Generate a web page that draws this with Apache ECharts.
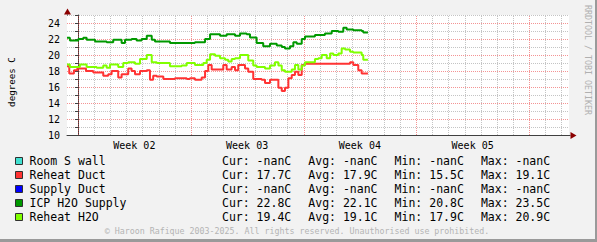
<!DOCTYPE html>
<html>
<head>
<meta charset="utf-8">
<script src="https://cdn.jsdelivr.net/npm/echarts@6/dist/echarts.min.js"></script>
<style>
html, body { margin: 0; padding: 0; background: #f2f2f2; }
#frame { position: absolute; left: 0; top: 0; width: 595px; height: 239px; background: #f2f2f2;
  border-right: 2px solid #9a9a9a; border-bottom: 3px solid #9a9a9a; }
#chart { width: 595px; height: 239px; }
</style>
</head>
<body>
<div id="frame"><div id="chart"></div></div>
<script>
// ---- data (x = days since start of Week 02) ----
const weekLabels = ['Week 02', 'Week 03', 'Week 04', 'Week 05'];
const weekStarts = [0, 7, 14, 21];
const gridDays = [0,1,2,3,4,5,6,7,8,9,10,11,12,13,14,15,16,17,18,19,20,21,22,23,24,25,26,27,28,29,30];
const xMin = -0.68, xMax = 30.48;
const yTicks = [10, 12, 14, 16, 18, 20, 22, 24];

const seriesNames = ['Room S wall', 'Reheat Duct', 'Supply Duct', 'ICP H2O Supply', 'Reheat H2O'];
const seriesColors = ['#40e0d0', '#ff3333', '#0000ff', '#009900', '#80ff00'];
const curStats = ['-nan', '17.7', '-nan', '22.8', '19.4'];
const avgStats = ['-nan', '17.9', '-nan', '22.1', '19.1'];
const minStats = ['-nan', '15.5', '-nan', '20.8', '17.9'];
const maxStats = ['-nan', '19.1', '-nan', '23.5', '20.9'];

const roomDays = [];
const roomVals = [];
const supplyDays = [];
const supplyVals = [];

const reheatDuctDays = [-0.68, -0.54, -0.25, -0.04, 0.50, 0.95, 1.57, 1.88, 2.09, 2.50, 2.71, 3.12, 3.33, 3.54, 3.85, 4.27, 4.47, 4.67, 4.89, 5.30, 6.02, 6.75, 6.95, 7.26, 7.68, 7.89, 8.09, 8.30, 9.02, 9.23, 9.54, 9.75, 9.95, 10.37, 10.57, 10.88, 11.40, 11.61, 11.92, 12.44, 12.65, 12.85, 13.06, 13.27, 13.47, 13.68, 13.89, 14.09, 16.89, 17.09, 17.40, 17.61, 18.00];
const reheatDuctVals = [18.6, 17.7, 18.1, 18.3, 18.0, 17.8, 17.4, 17.6, 18.0, 17.2, 17.6, 18.3, 18.0, 17.6, 18.0, 18.1, 16.9, 17.4, 17.3, 17.0, 17.1, 17.0, 17.1, 16.9, 17.2, 18.0, 18.75, 18.2, 18.75, 18.2, 18.5, 18.1, 18.75, 18.3, 17.9, 17.0, 16.9, 16.5, 16.9, 15.9, 15.5, 15.9, 17.1, 17.5, 17.9, 17.5, 18.75, 18.9, 19.1, 18.75, 18.1, 17.7, 17.7];

const icpDays = [-0.68, -0.50, 0.02, 0.33, 0.54, 1.06, 1.78, 2.19, 2.71, 2.92, 3.33, 3.64, 3.95, 4.27, 4.58, 4.78, 5.71, 6.95, 7.26, 7.89, 8.20, 8.82, 9.23, 9.75, 10.06, 10.47, 10.68, 11.09, 11.50, 11.92, 12.34, 12.65, 12.85, 13.16, 13.37, 13.58, 13.89, 14.09, 14.71, 15.33, 15.75, 16.16, 16.47, 16.68, 17.09, 17.61, 17.71, 18.00];
const icpVals = [22.15, 21.8, 22.0, 22.15, 21.9, 21.7, 21.6, 21.9, 21.5, 21.9, 22.0, 21.8, 22.0, 22.4, 21.9, 21.7, 21.5, 21.5, 21.6, 22.0, 22.6, 22.4, 22.6, 22.4, 22.7, 22.6, 22.2, 21.5, 21.1, 21.4, 21.2, 21.0, 20.8, 21.1, 21.6, 21.4, 22.0, 22.3, 22.5, 22.7, 23.0, 22.9, 23.4, 23.2, 23.1, 23.0, 22.8, 22.8];

const reheatH2ODays = [-0.68, -0.50, 0.12, 0.54, 1.16, 1.57, 1.78, 1.99, 2.50, 2.81, 3.12, 3.54, 3.85, 4.27, 4.58, 4.89, 5.71, 6.44, 6.75, 7.26, 7.78, 7.99, 8.20, 8.51, 8.82, 9.13, 9.33, 9.54, 9.75, 10.06, 10.57, 10.88, 11.09, 11.61, 11.92, 12.23, 12.44, 12.65, 12.85, 13.27, 13.47, 13.68, 13.89, 14.09, 14.71, 14.92, 15.13, 15.44, 15.65, 15.85, 16.16, 16.37, 16.58, 16.89, 17.09, 17.61, 17.71, 18.00];
const reheatH2OVals = [18.8, 18.5, 18.8, 18.5, 18.4, 18.7, 18.4, 18.8, 18.5, 19.0, 19.1, 18.9, 19.5, 20.0, 19.1, 19.0, 18.6, 18.7, 19.0, 18.75, 19.0, 19.4, 20.1, 19.9, 19.6, 19.4, 19.2, 19.5, 19.6, 20.0, 19.3, 18.7, 18.5, 18.3, 18.7, 19.1, 18.7, 18.1, 17.9, 18.2, 18.75, 18.2, 18.7, 19.1, 19.5, 19.6, 20.0, 19.6, 20.2, 20.0, 20.2, 20.8, 20.7, 20.4, 20.3, 20.0, 19.4, 19.4];

const seriesDays = [roomDays, reheatDuctDays, supplyDays, icpDays, reheatH2ODays];
const seriesVals = [roomVals, reheatDuctVals, supplyVals, icpVals, reheatH2OVals];

// ---- build ----
const MONO = '"DejaVu Sans Mono", monospace';
const MAJOR = 'rgba(235,60,60,0.55)';
const MINOR = '#c4c4c4';
const ARROW = '#8b0000';

function pairs(days, vals) {
  const out = [];
  const n = Math.min(days.length, vals.length);
  for (let i = 0; i < n; i++) out.push([days[i], vals[i]]);
  return out;
}

const dataSeries = seriesNames.map((name, i) => ({
  name: name,
  type: 'line',
  step: 'end',
  showSymbol: false,
  symbol: 'none',
  z: 5,
  color: seriesColors[i],
  lineStyle: { color: seriesColors[i], width: 2 },
  itemStyle: { color: seriesColors[i] },
  data: pairs(seriesDays[i], seriesVals[i]),
  animation: false
}));

// vertical day grid lines, placed through the x scale
const gridSeries = {
  type: 'custom',
  z: 3,
  animation: false,
  clip: false,
  data: gridDays.map(d => [d, 10, d % 7 === 0 ? 1 : 0]),
  renderItem: (params, api) => {
    const d = api.value(0);
    const p0 = api.coord([d, 10]);
    const p1 = api.coord([d, 25]);
    const x = Math.round(p0[0]) + 0.5;
    return {
      type: 'line',
      shape: { x1: x, y1: Math.round(p0[1]), x2: x, y2: Math.round(p1[1]) },
      style: { stroke: api.value(2) ? MAJOR : MINOR, lineWidth: 1, lineDash: [1, 1] }
    };
  }
};

// axis arrows at the ends of the axes
const arrowSeries = {
  type: 'custom',
  z: 6,
  animation: false,
  clip: false,
  data: [[xMax, 10, 0], [xMin, 25, 1]],
  renderItem: (params, api) => {
    const p = api.coord([api.value(0), api.value(1)]);
    const x = Math.round(p[0]) + 0.5, y = Math.round(p[1]) + 0.5;
    if (api.value(2) === 0) {
      return { type: 'group', children: [
        { type: 'line', shape: { x1: x - 1, y1: y, x2: x + 1, y2: y }, style: { stroke: '#404040', lineWidth: 1 } },
        { type: 'polygon', shape: { points: [[x + 1, y - 3.5], [x + 7, y], [x + 1, y + 3.5]] }, style: { fill: ARROW } }
      ] };
    }
    return { type: 'group', children: [
      { type: 'line', shape: { x1: x, y1: y, x2: x, y2: y - 1 }, style: { stroke: '#404040', lineWidth: 1 } },
      { type: 'polygon', shape: { points: [[x - 3.5, y - 1], [x, y - 7], [x + 3.5, y - 1]] }, style: { fill: ARROW } }
    ] };
  }
};

const legendRich = {
  n: { width: 192.5, padding: [0, 0, 0, 2], fontFamily: MONO, fontSize: 11.5, color: '#000', lineHeight: 14 },
  v: { width: 86.3, fontFamily: MONO, fontSize: 11.5, color: '#000', lineHeight: 14 }
};

const chart = echarts.init(document.getElementById('chart'), null, { renderer: 'svg' });
chart.setOption({
  animation: false,
  backgroundColor: 'transparent',
  grid: { left: 67, right: 26, top: 15, bottom: 104, show: false, containLabel: false, outerBoundsMode: 'none' },
  xAxis: {
    type: 'value',
    min: xMin, max: xMax,
    axisLine: { show: true, lineStyle: { color: '#404040', width: 1 } },
    axisTick: { show: false },
    splitLine: { show: false },
    axisLabel: {
      customValues: weekStarts.map(s => s + 3.5),
      formatter: v => {
        const idx = weekStarts.findIndex(s => Math.abs(s + 3.5 - v) < 0.01);
        return idx >= 0 ? weekLabels[idx] : '';
      },
      fontFamily: MONO, fontSize: 10, color: '#000', margin: 5
    }
  },
  yAxis: {
    type: 'value',
    min: 10, max: 25, interval: 1,
    axisLine: { show: true, lineStyle: { color: '#404040', width: 1 } },
    axisTick: { show: true, length: 3, lineStyle: { color: '#404040' } },
    splitArea: { show: true, areaStyle: { color: ['#ffffff'] } },
    splitLine: { show: true, lineStyle: { color: [MAJOR, MINOR], type: [1, 1], width: 1 } },
    axisLabel: {
      formatter: v => (yTicks.indexOf(v) >= 0 ? String(v) : ''),
      fontFamily: MONO, fontSize: 10, color: '#000', margin: 7
    }
  },
  legend: {
    data: seriesNames,
    orient: 'vertical',
    left: 15, top: 154,
    padding: 0,
    itemWidth: 7, itemHeight: 7,
    itemGap: 0,
    icon: 'rect',
    selectedMode: false,
    itemStyle: { borderColor: '#303030', borderWidth: 1 },
    lineStyle: { width: 0 },
    textStyle: { fontFamily: MONO, fontSize: 11.5, color: '#000', rich: legendRich, lineHeight: 14 },
    formatter: name => {
      const i = seriesNames.indexOf(name);
      return '{n|' + name + '}' +
        '{v|Cur: ' + curStats[i] + 'C}' +
        '{v|Avg: ' + avgStats[i] + 'C}' +
        '{v|Min: ' + minStats[i] + 'C}' +
        '{v|Max: ' + maxStats[i] + 'C}';
    }
  },
  graphic: [
    { type: 'text', x: 11, y: 82, rotation: Math.PI / 2,
      style: { text: 'degrees C', font: '9.2px ' + MONO, fill: '#000', textAlign: 'center', textVerticalAlign: 'middle' } },
    { type: 'text', x: 588, y: 60, rotation: -Math.PI / 2,
      style: { text: 'RRDTOOL / TOBI OETIKER', font: '8.3px ' + MONO, fill: '#b0b0b0', textAlign: 'center', textVerticalAlign: 'middle' } },
    { type: 'text', x: 297, y: 231,
      style: { text: '\u00a9 Haroon Rafique 2003-2025. All rights reserved. Unauthorised use prohibited.', font: '8.3px ' + MONO, fill: '#b4b4b4', textAlign: 'center', textVerticalAlign: 'middle' } }
  ],
  series: [gridSeries].concat(dataSeries).concat([arrowSeries])
});
</script>
</body>
</html>
